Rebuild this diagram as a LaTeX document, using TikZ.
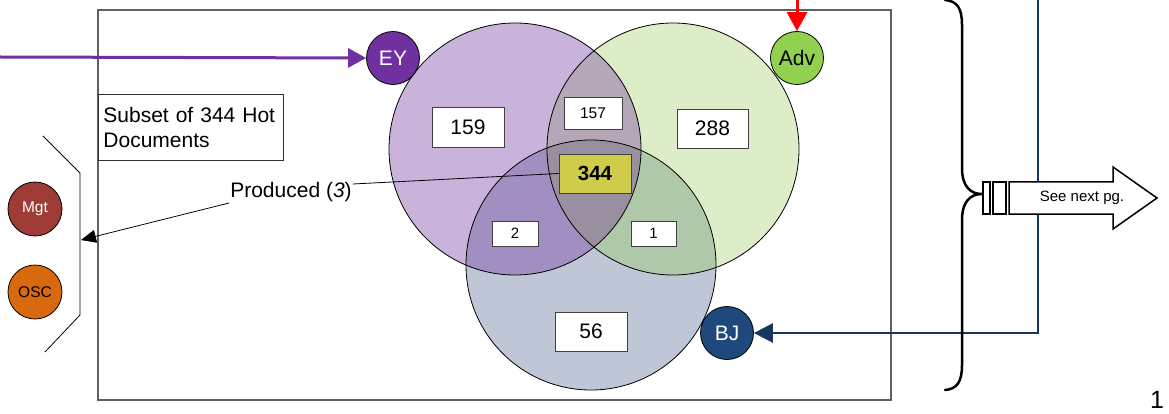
\documentclass[tikz,border=0pt]{standalone}
\usepackage{fontspec}
\setmainfont{Liberation Sans}
\usetikzlibrary{arrows.meta}

\definecolor{setP}{HTML}{C9B3DB}
\definecolor{setG}{HTML}{DDEDC8}
\definecolor{setB}{HTML}{BFC7D7}
\definecolor{setPG}{HTML}{B4A8B8}
\definecolor{setPB}{HTML}{A28FC2}
\definecolor{setGB}{HTML}{AEC8A9}
\definecolor{setPGB}{HTML}{9890A0}
\definecolor{hot}{HTML}{CFCB4B}
\definecolor{eyc}{HTML}{7030A0}
\definecolor{advc}{HTML}{92D050}
\definecolor{mgtc}{HTML}{9E3B35}
\definecolor{oscc}{HTML}{D9690E}
\definecolor{bjc}{HTML}{1F487C}
\definecolor{navy}{HTML}{17365D}
\definecolor{frame}{HTML}{606060}

\tikzset{
  fsz/.style={font=\fontsize{#1}{25}\selectfont},
  numbox/.style={draw=black!75, fill=white, line width=0.9pt, inner sep=0pt},
  tag/.style={circle, draw=black, line width=0.8pt, minimum size=53pt, inner sep=0pt},
  setline/.style={draw=black, line width=0.8pt},
}

\begin{document}
\begin{tikzpicture}[x=1pt, y=-1pt, font=\fontsize{21}{25}\selectfont]
\useasboundingbox (0,0) rectangle (1169,414);

% outer frame
\draw[frame, line width=1.3pt] (98,10) rectangle (891,400);

% Venn diagram: three sets
\coordinate (cP) at (515,149);
\coordinate (cG) at (673,149);
\coordinate (cB) at (591,265);
\fill[setP] (cP) circle[radius=126pt];
\fill[setG] (cG) circle[radius=126pt];
\fill[setB] (cB) circle[radius=125pt];
\begin{scope}
  \clip (cP) circle[radius=126pt];
  \fill[setPG] (cG) circle[radius=126pt];
  \fill[setPB] (cB) circle[radius=125pt];
  \clip (cG) circle[radius=126pt];
  \fill[setPGB] (cB) circle[radius=125pt];
\end{scope}
\begin{scope}
  \clip (cG) circle[radius=126pt];
  \clip (cB) circle[radius=125pt];
  \path[fill=setGB, even odd rule] (cP) circle[radius=126pt] (cB) circle[radius=300pt];
\end{scope}
\draw[setline] (cP) circle[radius=126pt];
\draw[setline] (cG) circle[radius=126pt];
\draw[setline] (cB) circle[radius=125pt];

% region counts
\node[numbox, minimum width=72pt, minimum height=40pt] (n159) at (468,127) {159};
\node[numbox, minimum width=58pt, minimum height=32pt, fsz=15.5] (n157) at (593,113) {157};
\node[numbox, minimum width=71pt, minimum height=39pt] (n288) at (712.5,128.5) {288};
\node[numbox, fill=hot, minimum width=72pt, minimum height=39pt, fsz=20.5] (n344) at (595,173.5) {\textbf{344}};
\node[numbox, minimum width=46pt, minimum height=25pt, fsz=15] (n2) at (515,233.5) {2};
\node[numbox, minimum width=45pt, minimum height=25pt, fsz=15] (n1) at (653.5,233.5) {1};
\node[numbox, minimum width=72pt, minimum height=39pt] (n56) at (591,331.5) {56};

% caption box
\node[draw=black!80, line width=0.9pt, fill=white, anchor=north west, text width=175pt,
      align=left, minimum width=185pt, minimum height=66pt, inner xsep=5pt, inner ysep=0pt]
      (subset) at (98,94) {Subset of 344 Hot\\Documents};

% party markers
\node[tag, fill=eyc, text=white] (EY) at (393,58) {EY};
\node[tag, fill=advc] (Adv) at (797,58) {Adv};
\node[tag, fill=bjc, text=white] (BJ) at (727,333) {BJ};
\node[tag, fill=mgtc, text=white, fsz=15.5, minimum size=54pt] (Mgt) at (35,209) {Mgt};
\node[tag, fill=oscc, fsz=15.5, minimum size=54pt] (OSC) at (35,292) {OSC};

% left bracket grouping Mgt and OSC
\draw[black, line width=0.8pt] (43,136) -- (80,173) -- (80,315) -- (45,352);
\coordinate (brk) at (81,240);

% produced documents
\node[inner sep=1pt] (prod) at (291,192) {Produced (\textit{3})};
\draw[black, line width=0.8pt] (n344.west) -- ([yshift=8pt]prod.east);
\draw[black, line width=0.8pt, -{Triangle[length=15pt,width=13pt]}]
  ([yshift=-11pt]prod.west) -- (brk);

% incoming arrows
\coordinate (eysrc) at (0,57);
\coordinate (advsrc) at (797,0);
\coordinate (bjsrc) at (1038,0);
\draw[eyc, line width=3pt, -{Triangle[length=18pt,width=19pt]}] (eysrc) -- (EY.west);
\draw[red, line width=3pt, -{Triangle[length=19pt,width=20pt]}] (advsrc) -- (Adv.north);
\draw[navy, line width=2.6pt, -{Triangle[length=19pt,width=19pt]}] (bjsrc) |- (BJ.east);

% right brace
\draw[black, line width=2.5pt, line cap=round]
  (945,0) .. controls (957,1) and (962,8) .. (962,25) -- (962,168)
  .. controls (962,186) and (970,194) .. (982,194)
  .. controls (970,194) and (962,202) .. (962,220) -- (962,365)
  .. controls (962,382) and (957,389) .. (945,390);

% striped continuation arrow
\draw[black, line width=1.5pt, fill=white] (983,182) rectangle (990,214);
\draw[black, line width=1.5pt, fill=white] (993,182) rectangle (1006,214);
\draw[black, line width=1.5pt, fill=white, line join=miter]
  (1009,182) -- (1113,182) -- (1113,167) -- (1157,198) -- (1113,229) -- (1113,214) -- (1009,214) -- cycle;
\node[fsz=15, inner sep=0pt] (next) at (1082,198) {See next pg.};

% page number
\node[anchor=base west, inner sep=0pt, fsz=25] (pgno) at (1150,408) {1};
\end{tikzpicture}
\end{document}
